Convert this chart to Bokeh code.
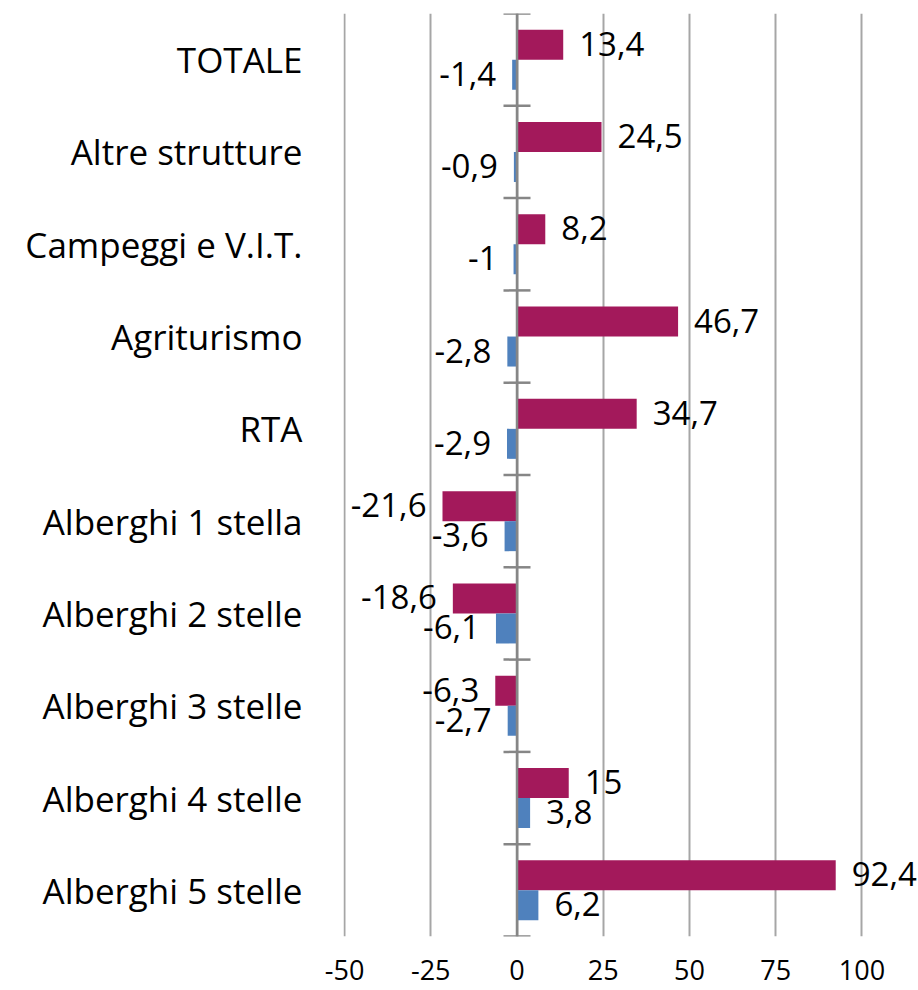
from bokeh.plotting import figure
from bokeh.models import ColumnDataSource, FixedTicker, Span
from bokeh.core.properties import value
from bokeh.embed import file_html
from bokeh.resources import INLINE

# ---- data (top to bottom as shown) ----
categories = ["TOTALE", "Altre strutture", "Campeggi e V.I.T.", "Agriturismo", "RTA",
              "Alberghi 1 stella", "Alberghi 2 stelle", "Alberghi 3 stelle",
              "Alberghi 4 stelle", "Alberghi 5 stelle"]
series_a = [13.4, 24.5, 8.2, 46.7, 34.7, -21.6, -18.6, -6.3, 15, 92.4]   # crimson (upper bar)
series_b = [-1.4, -0.9, -1, -2.8, -2.9, -3.6, -6.1, -2.7, 3.8, 6.2]       # blue (lower bar)
x_ticks = [-50, -25, 0, 25, 50, 75, 100]
x_tick_labels = ["-50", "-25", "0", "25", "50", "75", "100"]

COL_A = "#A3195B"
COL_B = "#4F81BD"
FONT = "Open Sans"

n = len(categories)
centers = [n - 1 - i for i in range(n)]
bar_h = 0.325
half = bar_h / 2

def fmt(v):
    return f"{v:g}".replace(".", ",")

p = figure(frame_width=575, frame_height=923,
           x_range=(-50.3, 116.4), y_range=(-0.5, n - 0.5),
           output_backend="svg", toolbar_location=None,
           min_border_left=343, min_border_right=0, min_border_top=13, min_border_bottom=0)
p.outline_line_color = None
p.background_fill_color = "white"
p.border_fill_color = "white"

# bars
src_a = ColumnDataSource(dict(y=[c + half for c in centers], v=series_a))
src_b = ColumnDataSource(dict(y=[c - half for c in centers], v=series_b))
p.hbar(y="y", left=0, right="v", height=bar_h, source=src_a, fill_color=COL_A, line_color=None)
p.hbar(y="y", left=0, right="v", height=bar_h, source=src_b, fill_color=COL_B, line_color=None)

# vertical axis at 0 with crossing ticks at category boundaries
p.add_layout(Span(location=0, dimension="height", line_color="#868686", line_width=2.5))
bounds = [b - 0.5 for b in range(n + 1)]
p.scatter(x=[0] * len(bounds), y=bounds, marker="dash", size=27,
          line_color="#868686", line_width=2.5)

# data labels
def add_labels(vals, ys):
    pos = [(v, y, fmt(v)) for v, y in zip(vals, ys) if v >= 0]
    neg = [(v, y, fmt(v)) for v, y in zip(vals, ys) if v < 0]
    for items, align, off in ((pos, "left", 16), (neg, "right", -16)):
        if not items:
            continue
        s = ColumnDataSource(dict(x=[a[0] for a in items], y=[a[1] for a in items],
                                  t=[a[2] for a in items]))
        p.text(x="x", y="y", text="t", source=s, text_align=align, text_baseline="middle",
               x_offset=off, y_offset=-1, text_font=value(FONT), text_font_size="33px",
               text_color="black")

add_labels(series_a, [c + half for c in centers])
add_labels(series_b, [c - half for c in centers])

# x axis
p.xaxis.ticker = FixedTicker(ticks=x_ticks)
p.xaxis.major_label_overrides = {t: l for t, l in zip(x_ticks, x_tick_labels)}
p.xaxis.axis_line_color = None
p.xaxis.major_tick_line_color = None
p.xaxis.minor_tick_line_color = None
p.xaxis.major_label_text_font = FONT
p.xaxis.major_label_text_font_size = "27px"
p.xaxis.major_label_text_color = "black"
p.xaxis.major_label_standoff = 17

p.xgrid.ticker = FixedTicker(ticks=x_ticks)
p.xgrid.grid_line_color = "#A6A6A6"
p.xgrid.grid_line_width = 2
p.ygrid.grid_line_color = None

# y axis (category labels)
p.yaxis.ticker = FixedTicker(ticks=centers)
p.yaxis.major_label_overrides = {c: name for c, name in zip(centers, categories)}
p.yaxis.axis_line_color = None
p.yaxis.major_tick_line_color = None
p.yaxis.minor_tick_line_color = None
p.yaxis.major_label_text_font = FONT
p.yaxis.major_label_text_font_size = "35px"
p.yaxis.major_label_text_color = "black"
p.yaxis.major_label_standoff = 35

open("out.html", "w").write(file_html(p, INLINE))
